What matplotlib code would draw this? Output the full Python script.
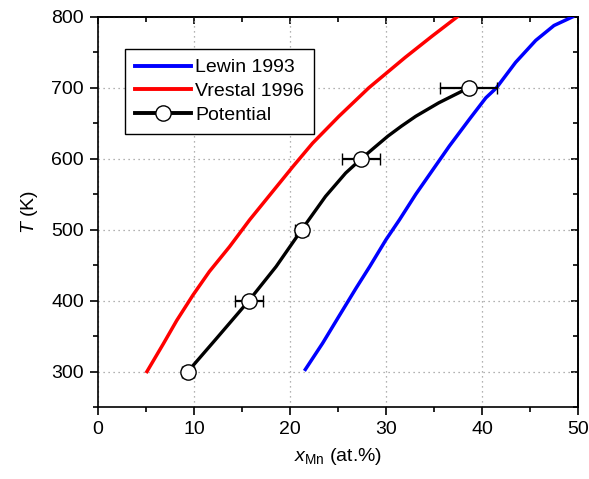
import matplotlib
matplotlib.use("Agg")
import matplotlib.pyplot as plt
from matplotlib.lines import Line2D

plt.rcParams['font.family'] = ['Liberation Sans', 'DejaVu Sans']
plt.rcParams['mathtext.fontset'] = 'custom'
plt.rcParams['mathtext.rm'] = 'Liberation Sans'
plt.rcParams['mathtext.it'] = 'Liberation Sans:italic'

# Lewin 1993 (blue)
lewin_T = [303, 340, 378, 418, 448, 486, 514, 550, 585, 618, 656, 686, 700, 736, 767, 788, 800]
lewin_x = [21.6, 23.4, 25.1, 26.9, 28.3, 30.0, 31.4, 33.1, 34.9, 36.6, 38.7, 40.4, 41.5, 43.5, 45.6, 47.5, 49.4]

# Vrestal 1996 (red)
vrestal_T = [300, 339, 372, 408, 441, 476, 514, 554, 589, 622, 660, 700, 743, 773, 800]
vrestal_x = [5.1, 6.8, 8.2, 9.9, 11.6, 13.7, 15.8, 18.2, 20.3, 22.35, 25.1, 28.2, 32.0, 34.8, 37.4]

# Potential: data points with error bars
pot_T = [300, 400, 500, 600, 700]
pot_x = [9.36, 15.72, 21.22, 27.42, 38.6]
pot_xerr = [0.6, 1.45, 0.7, 2.0, 3.0]

# Potential: curve through the points
pot_curve_T = [300, 346, 400, 448, 500, 547, 580, 600, 616, 632, 646, 660, 679, 700]
pot_curve_x = [9.36, 12.3, 15.72, 18.55, 21.22, 23.7, 25.8, 27.42, 28.8, 30.2, 31.6, 33.1, 35.5, 38.6]

fig = plt.figure(figsize=(5.89, 4.79), dpi=100)
ax = fig.add_axes([98/589, 1-407/479, 480/589, 390/479])

ax.plot(lewin_x, lewin_T, color='#0000ff', lw=2.5, zorder=3, solid_joinstyle='round')
ax.plot(vrestal_x, vrestal_T, color='#ff0000', lw=2.5, zorder=3, solid_joinstyle='round')
ax.plot(pot_curve_x, pot_curve_T, color='black', lw=2.4, zorder=4, solid_joinstyle='round')
ax.errorbar(pot_x, pot_T, xerr=pot_xerr, fmt='o', ms=11, mfc='white', mec='black',
            mew=1.0, ecolor='black', elinewidth=1.6, capsize=4, capthick=1.6, zorder=5)

ax.set_xlim(0, 50)
ax.set_ylim(250, 800)
ax.set_xticks([0, 10, 20, 30, 40, 50])
ax.set_yticks([300, 400, 500, 600, 700, 800])
ax.set_xticks(range(5, 50, 10), minor=True)
ax.set_yticks(range(250, 800, 100), minor=True)
ax.grid(True, which='major', color='#999999', linestyle=(0, (1, 3)), lw=0.9)

for s in ax.spines.values():
    s.set_linewidth(1.2)
ax.tick_params(axis='both', which='major', direction='out', length=6, width=1.2,
               labelsize=14, pad=4)
ax.tick_params(axis='both', which='minor', direction='out', length=3.5, width=1.2)

secx = ax.secondary_xaxis('top')
secx.set_xticks([0, 10, 20, 30, 40, 50])
secx.set_xticks(range(5, 50, 10), minor=True)
secx.tick_params(which='major', direction='in', length=5, width=1.2, labeltop=False)
secx.tick_params(which='minor', direction='in', length=3.5, width=1.2)
secx.spines['top'].set_linewidth(1.2)

secy = ax.secondary_yaxis('right')
secy.set_yticks([300, 400, 500, 600, 700, 800])
secy.set_yticks(range(250, 800, 100), minor=True)
secy.tick_params(which='major', direction='in', length=5, width=1.2, labelright=False)
secy.tick_params(which='minor', direction='in', length=3.5, width=1.2)
secy.spines['right'].set_linewidth(1.2)

ax.set_xlabel(r'$x_{\mathrm{Mn}}$ (at.%)', fontsize=14, labelpad=6)
ax.set_ylabel(r'$T$ (K)', fontsize=14, labelpad=8)

handles = [
    Line2D([], [], color='#0000ff', lw=2.8),
    Line2D([], [], color='#ff0000', lw=2.8),
    Line2D([], [], color='black', lw=2.8, marker='o', ms=11, mfc='white', mec='black', mew=1.0),
]
labels = ['Lewin 1993', 'Vrestal 1996', 'Potential']
leg = ax.legend(handles, labels, loc='upper left', bbox_to_anchor=(0.056, 0.918),
                borderaxespad=0, fontsize=14, frameon=True, fancybox=False,
                handlelength=2.9, handletextpad=0.2, labelspacing=0.32,
                borderpad=0.5, edgecolor='black', framealpha=1)
leg.get_frame().set_linewidth(1.0)

fig.savefig('out.png', dpi=100)
